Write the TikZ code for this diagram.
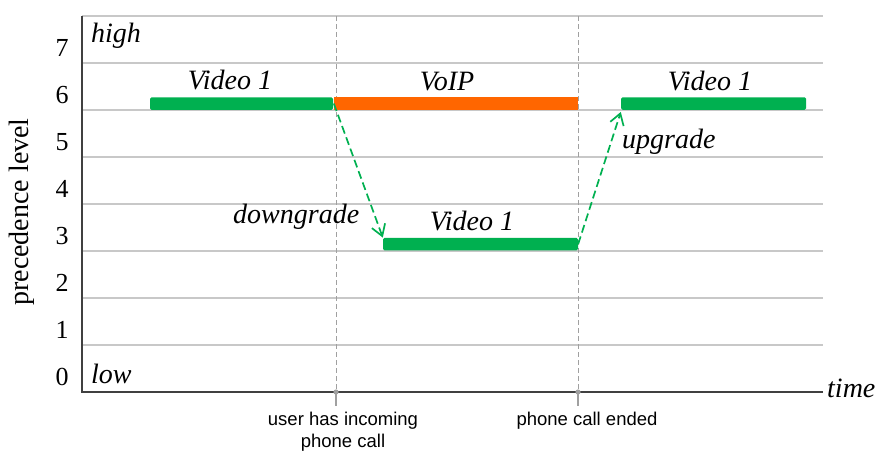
\documentclass[tikz,border=0pt]{standalone}
\usepackage{fontspec}
\setmainfont{Liberation Serif}
\newfontfamily\labelsans{Liberation Sans}
\usetikzlibrary{arrows.meta}
\definecolor{barGreen}{HTML}{00B050}
\definecolor{barOrange}{HTML}{FF6600}
\definecolor{gridGray}{HTML}{C8C8C8}
\definecolor{markGray}{HTML}{A0A0A0}
\definecolor{axisGray}{HTML}{404040}
\begin{document}
\begin{tikzpicture}[x=1pt,y=-1pt,
  gridline/.style={draw=gridGray,line width=1.3pt},
  axisline/.style={draw=axisGray,line width=1.4pt},
  eventline/.style={draw=markGray,line width=1pt,dash pattern=on 5pt off 3pt},
  bar/.style={fill=#1,rounded corners=1.5pt,inner sep=0pt,minimum height=12.5pt},
  itlabel/.style={font=\fontsize{28}{30}\selectfont\itshape,inner sep=0pt,anchor=base},
  levelnum/.style={font=\fontsize{26}{28}\selectfont,inner sep=0pt,anchor=base},
  eventlabel/.style={font=\labelsans\fontsize{18.5}{22}\selectfont,inner sep=0pt,anchor=base,align=center},
  levelshift/.style={draw=barGreen,line width=1.7pt,dash pattern=on 8pt off 4pt,
    -{Straight Barb[length=11pt,width=14pt,line width=1.7pt]}}
]
\useasboundingbox (0,0) rectangle (878,451);

% horizontal grid, one line per precedence level
\foreach \j in {1,...,8}
  \draw[gridline] (82,{392-47*\j}) -- (823,{392-47*\j});

% level numbers on the vertical axis
\foreach \j in {0,...,7}
  \node[levelnum] (num\j) at (62,{385-47*\j}) {\j};

\node[font=\fontsize{28}{30}\selectfont,rotate=90,inner sep=0pt] (ylabel) at (22,212) {precedence level};

% event instants on the time axis
\coordinate (evA) at (336,392);
\coordinate (evB) at (578,392);
\coordinate (evAtop) at (336,16);
\coordinate (evBtop) at (578,16);
\draw[eventline] (evAtop) -- (evA);
\draw[eventline] (evBtop) -- (evB);

% axes
\coordinate (origin) at (82,392);
\coordinate (ytop) at (82,16);
\coordinate (xend) at (823,392);
\draw[axisline] (ytop) -- (origin) -- (xend);
\node[itlabel,anchor=base west] (timelbl) at (827,397) {time};
\node[itlabel,anchor=base west] (high) at (91,42) {high};
\node[itlabel,anchor=base west] (low) at (91,383) {low};

% tick marks with dots
\foreach \e in {evA,evB}{
  \draw[markGray,line width=1.4pt] (\e) -- ++(0,14);
  \fill[markGray] (\e) circle (2.6pt);
}
\node[eventlabel] (lblA) at (343,447) {user has incoming\\phone call};
\node[eventlabel] (lblB) at (587,425) {phone call ended};

% service bars
\node[bar=barGreen,minimum width=183pt] (videoA) at (241.5,103.5) {};
\node[bar=barOrange,minimum width=244pt,rounded corners=0pt] (voip) at (456,103.5) {};
\node[bar=barGreen,minimum width=195pt] (videoB) at (480.5,244) {};
\node[bar=barGreen,minimum width=185pt] (videoC) at (713.5,103.5) {};

\node[itlabel] (videoAlbl) at (230,89) {Video 1};
\node[itlabel] (voiplbl) at (447,90) {VoIP};
\node[itlabel] (videoBlbl) at (472,230) {Video 1};
\node[itlabel] (videoClbl) at (710,90) {Video 1};

% precedence changes
\draw[levelshift] (voip.west) -- (videoB.north west);
\draw[levelshift] (videoB.east) -- ([yshift=-2pt]videoC.south west);
\node[itlabel,anchor=base west] (down) at (233,223) {downgrade};
\node[itlabel,anchor=base west] (up) at (622,148) {upgrade};
\end{tikzpicture}
\end{document}
